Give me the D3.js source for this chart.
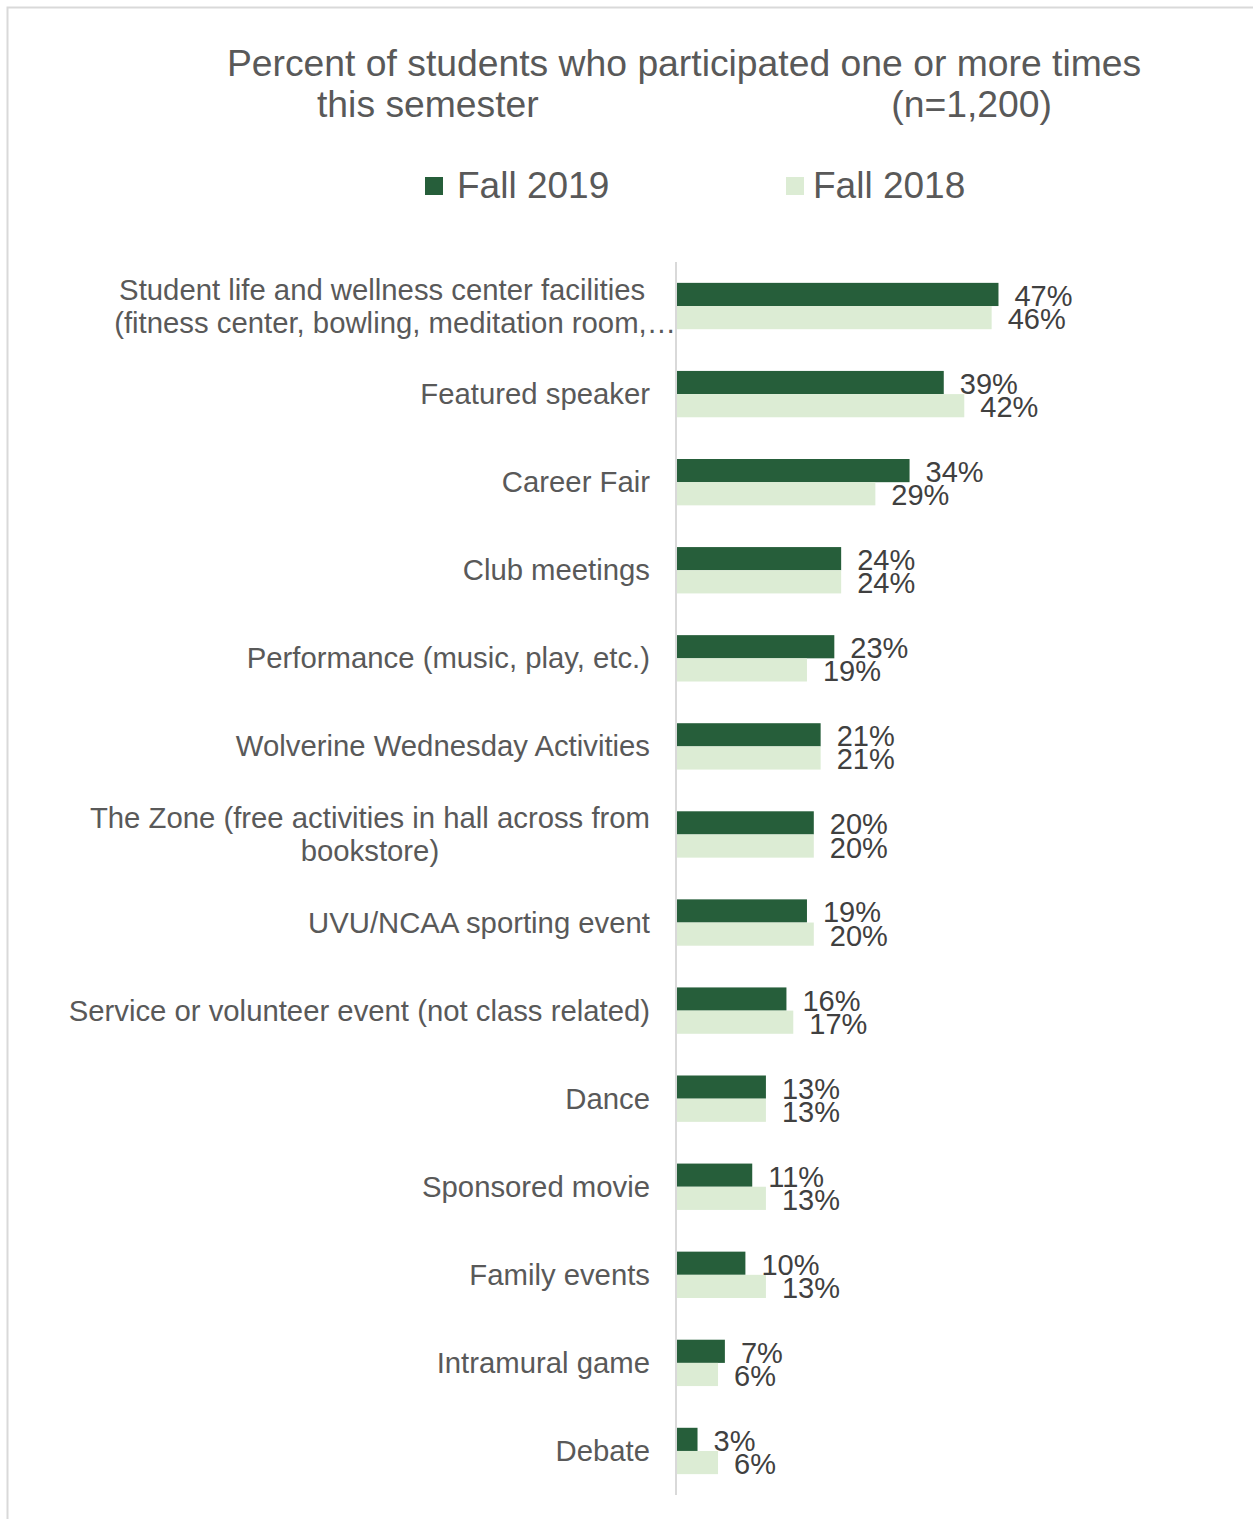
<!DOCTYPE html>
<html>
<head>
<meta charset="utf-8">
<script src="https://cdn.jsdelivr.net/npm/d3@7"></script>
<style>
  body { margin: 0; background: #fff; }
  text { font-family: Arial, "Liberation Sans", sans-serif; }
</style>
</head>
<body>
<svg width="1253" height="1519"></svg>
<script>
// data
const categories = [
  "Student life and wellness center facilities\n(fitness center, bowling, meditation room,\u2026",
  "Featured speaker",
  "Career Fair",
  "Club meetings",
  "Performance (music, play, etc.)",
  "Wolverine Wednesday Activities",
  "The Zone (free activities in hall across from\nbookstore)",
  "UVU/NCAA sporting event",
  "Service or volunteer event (not class related)",
  "Dance",
  "Sponsored movie",
  "Family events",
  "Intramural game",
  "Debate"
];
const series = ["Fall 2019", "Fall 2018"];
const fall2019 = [47, 39, 34, 24, 23, 21, 20, 19, 16, 13, 11, 10, 7, 3];
const fall2018 = [46, 42, 29, 24, 19, 21, 20, 20, 17, 13, 13, 13, 6, 6];
const colors = ["#265e3a", "#dcecd4"];
const titleLines = ["Percent of students who participated one or more times", "this semester", "(n=1,200)"];

const rows = categories.map((c, i) => ({cat: c, vals: [fall2019[i], fall2018[i]]}));

const svg = d3.select("svg");

// outer frame (only top + left visible)
svg.append("rect")
  .attr("x", 7.5).attr("y", 7.5).attr("width", 1300).attr("height", 1600)
  .attr("fill", "none").attr("stroke", "#d9d9d9").attr("stroke-width", 2);

// title
svg.append("text").attr("x", 684).attr("y", 76).attr("text-anchor", "middle")
  .attr("font-size", 37.3).attr("fill", "#595959").text(titleLines[0]);
svg.append("text").attr("x", 317).attr("y", 117)
  .attr("font-size", 37.3).attr("fill", "#595959").text(titleLines[1]);
svg.append("text").attr("x", 1052).attr("y", 117).attr("text-anchor", "end")
  .attr("font-size", 37.3).attr("fill", "#595959").text(titleLines[2]);

// legend
const legendX = [425, 786];
const legendGap = [32, 27];
const lg = svg.selectAll("g.legend").data(series).join("g")
  .attr("class", "legend")
  .attr("transform", (d, i) => `translate(${legendX[i]},177)`);
lg.append("rect").attr("width", 18).attr("height", 18).attr("fill", (d, i) => colors[i]);
lg.append("text").attr("x", (d, i) => legendGap[i]).attr("y", 21).attr("font-size", 37)
  .attr("fill", "#595959").text(d => d);

// scales
const x = d3.scaleLinear().domain([0, 100]).range([677, 677 + 684]);
const y = d3.scaleBand().domain(categories).range([262, 1495]);
const sub = d3.scaleBand().domain(series).range([0, y.bandwidth()]).paddingOuter(0.9);

// bars
const g = svg.selectAll("g.cat").data(rows).join("g")
  .attr("class", "cat")
  .attr("transform", d => `translate(0,${y(d.cat)})`);

g.selectAll("rect").data(d => d.vals).join("rect")
  .attr("x", x(0))
  .attr("y", (v, i) => sub(series[i]))
  .attr("width", v => x(v) - x(0))
  .attr("height", sub.bandwidth())
  .attr("fill", (v, i) => colors[i]);

g.selectAll("text.val").data(d => d.vals).join("text")
  .attr("class", "val")
  .attr("x", v => x(v) + 16)
  .attr("y", (v, i) => sub(series[i]) + sub.bandwidth() / 2 + 11.5)
  .attr("font-size", 29).attr("fill", "#404040")
  .text(v => v + "%");

// axis line
svg.append("line")
  .attr("x1", x(0) - 1).attr("x2", x(0) - 1)
  .attr("y1", y.range()[0]).attr("y2", y.range()[1])
  .attr("stroke", "#d9d9d9").attr("stroke-width", 2);

// category labels
const labelRight = 650;
g.each(function(d) {
  const lines = d.cat.split("\n");
  const sel = d3.select(this);
  const cy = y.bandwidth() / 2;
  if (lines.length === 1) {
    sel.append("text").attr("x", labelRight).attr("y", cy + 10)
      .attr("text-anchor", "end").attr("font-size", 29.3).attr("fill", "#595959")
      .text(lines[0]);
  } else {
    const ts = lines.map((l, k) => sel.append("text")
      .attr("y", cy + 10 + (k - (lines.length - 1) / 2) * 33)
      .attr("text-anchor", "middle").attr("font-size", 29.3).attr("fill", "#595959")
      .text(l));
    const widths = ts.map((t, k) => {
      const w = t.node().getComputedTextLength();
      return lines[k].endsWith("\u2026") ? w - 26 : w;
    });
    const maxW = d3.max(widths);
    ts.forEach((t, k) => t.attr("x", labelRight - maxW / 2 + (lines[k].endsWith("\u2026") ? 13 : 0)));
  }
});
</script>
</body>
</html>
